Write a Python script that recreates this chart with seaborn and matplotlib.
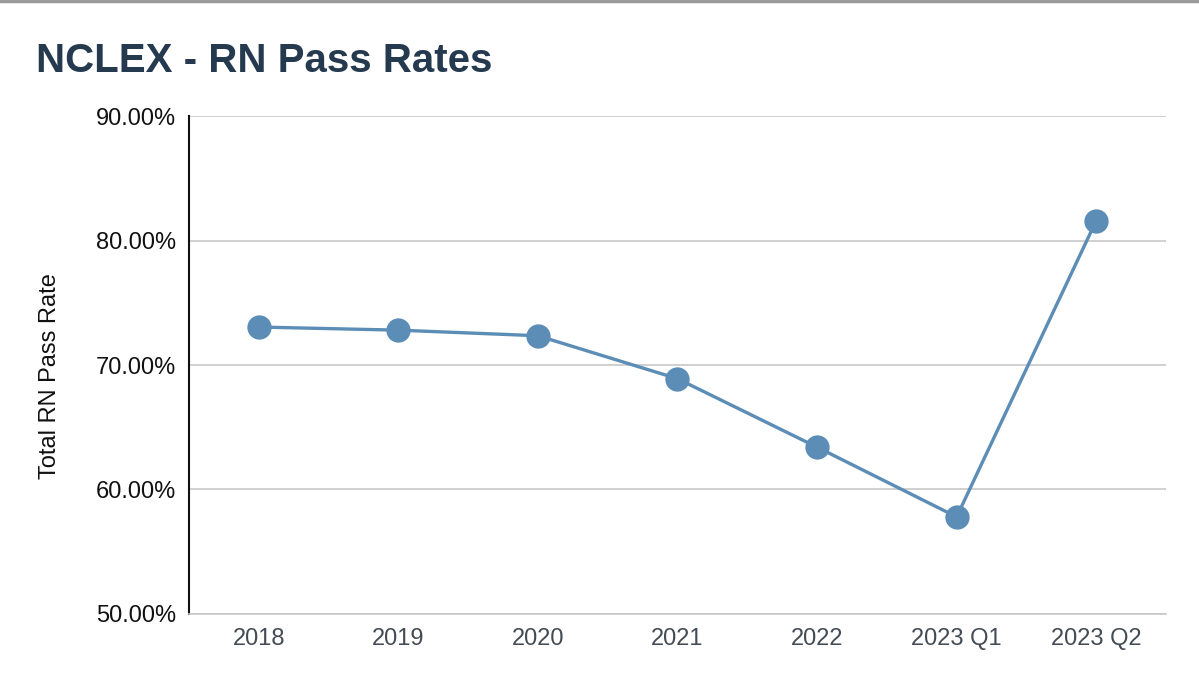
import matplotlib
matplotlib.use("Agg")
import matplotlib.pyplot as plt
import matplotlib.ticker as mtick
import seaborn as sns
import pandas as pd

# values
years = ["2018", "2019", "2020", "2021", "2022", "2023 Q1", "2023 Q2"]
pass_rate = [73.05, 72.8, 72.35, 68.9, 63.4, 57.8, 81.6]

df = pd.DataFrame({"Year": years, "Rate": pass_rate})

sns.set_theme(style="white")
plt.rcParams['font.family'] = ['Liberation Sans', 'DejaVu Sans']

fig = plt.figure(figsize=(11.99, 6.75), dpi=100)
ax = fig.add_axes([0.1576, 0.0904, 0.8149, 0.7377])

line_col = "#5b8db6"
sns.lineplot(data=df, x="Year", y="Rate", ax=ax, sort=False, color=line_col,
             linewidth=2.4, marker="o", markersize=17.5, markeredgewidth=0,
             markeredgecolor=line_col, zorder=3)

ax.set_ylim(50, 90)
ax.set_xlim(-0.5, len(years) - 0.5)
ax.set_yticks([50, 60, 70, 80, 90])
ax.yaxis.set_major_formatter(mtick.FuncFormatter(lambda v, p: f"{v:.2f}%"))
ax.grid(axis="y", color="#c8c8c8", linewidth=1.2)
ax.set_axisbelow(True)

for s in ["top", "right"]:
    ax.spines[s].set_visible(False)
ax.spines["left"].set_color("#111111")
ax.spines["left"].set_linewidth(1.5)
ax.spines["bottom"].set_color("#c8c8c8")
ax.spines["bottom"].set_linewidth(1.2)

ax.tick_params(axis="y", labelsize=17, labelcolor="#111111", length=0, pad=9)
ax.tick_params(axis="x", labelsize=17, labelcolor="#444b55", length=0, pad=10)
ax.set_xlabel("")
ax.set_ylabel("Total RN Pass Rate", fontsize=17, color="#111111")
ax.yaxis.set_label_coords(-0.131, 0.478)

fig.text(0.030, 0.910, "NCLEX - RN Pass Rates", fontsize=29, fontweight="bold",
         color="#263a4f", va="center", ha="left")

# thin gray bar at the very top of the image
fig.add_artist(plt.Line2D([0, 1], [0.998, 0.998], color="#9a9a9a", linewidth=2.5,
                          transform=fig.transFigure))

fig.savefig("out.png", dpi=100, facecolor="white")
